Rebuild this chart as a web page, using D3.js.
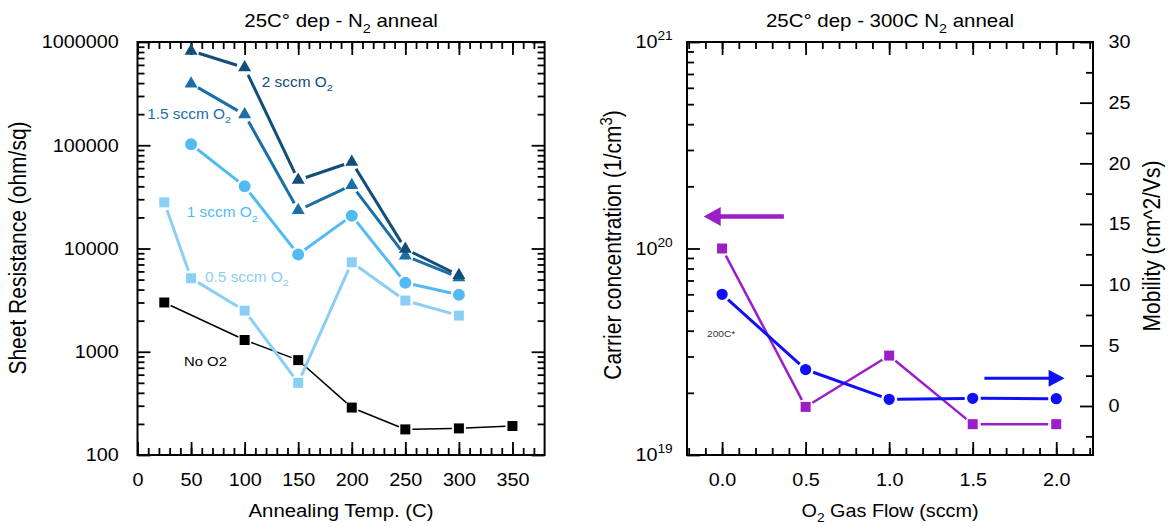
<!DOCTYPE html>
<html>
<head>
<meta charset="utf-8">
<script src="https://cdn.jsdelivr.net/npm/d3@7"></script>
<style>
body { margin: 0; background: #fff; }
text { font-family: Arial, "Liberation Sans", sans-serif; }
</style>
</head>
<body>
<svg id="chart" width="1168" height="527"></svg>
<script>
// left panel : sheet resistance vs annealing temperature
const tempNoO2 = [25, 100, 150, 200, 250, 300, 350];
const rsNoO2 = [3000, 1300, 830, 288, 177, 181, 191];
const temp05 = [25, 50, 100, 150, 200, 250, 300];
const rs05 = [28000, 5150, 2500, 500, 7350, 3130, 2240];
const temp = [50, 100, 150, 200, 250, 300];
const rs1 = [102000, 40000, 8750, 20800, 4650, 3570];
const rs15 = [395000, 198000, 23500, 41000, 8500, 5250];
const rs2 = [820000, 565000, 46000, 69000, 9900, 5500];
const tempTicks = [0, 50, 100, 150, 200, 250, 300, 350];
const rsTicks = [100, 1000, 10000, 100000, 1000000];

// right panel : carrier concentration + mobility vs O2 flow
const o2Flow = [0, 0.5, 1, 1.5, 2];
const carrier = [1.0e20, 1.71e19, 3.03e19, 1.41e19, 1.41e19];
const mobility = [9.2, 3.0, 0.55, 0.63, 0.6];
const flowTicks = [0, 0.5, 1, 1.5, 2];
const carrierTicks = [1e19, 1e20, 1e21];
const mobTicks = [0, 5, 10, 15, 20, 25, 30];

const SX = 1.1; // the picture is a bit wider than tall, stretch text to match
const svg = d3.select("#chart");

const L = {left: 137.5, right: 544.6, top: 42, bottom: 455};
const R = {left: 687, right: 1093, top: 42, bottom: 455};

const x = d3.scaleLinear([0, 380], [L.left, L.right]);
const y = d3.scaleLog([100, 1e6], [L.bottom, L.top]);
const xF = d3.scaleLinear([-0.21, 2.22], [R.left, R.right]);
const yC = d3.scaleLog([1e19, 1e21], [R.bottom, R.top]);
const yM = d3.scaleLinear([-4.04, 30], [R.bottom, R.top]);

function addText(g, px, py, parts, o) {
  const size = o.size;
  const t = g.append("text")
    .attr("font-size", size)
    .attr("text-anchor", o.anchor || "start")
    .attr("fill", o.fill || "#000")
    .attr("transform", `translate(${px},${py})` +
      (o.rotate ? ` rotate(-90) scale(1,${SX})` : ` scale(${SX},1)`));
  let off = 0;
  for (const [s, k] of parts) {
    const want = k == "sub" ? size * 0.3 : k == "sup" ? -size * 0.4 : 0;
    t.append("tspan").attr("dy", want - off).attr("font-size", k ? size * 0.7 : size).text(s);
    off = want;
  }
  return t;
}

function styleAxis(g) {
  g.attr("font-size", 18);
  g.select(".domain").remove();
  g.selectAll(".tick line").attr("stroke", "#000").attr("stroke-width", 1.8);
  g.selectAll(".tick text").attr("fill", "#000").attr("transform", `scale(${SX},1)`);
}

function axis(gen, tx, ty) {
  svg.append("g").attr("transform", `translate(${tx},${ty})`).call(gen).call(styleAxis);
}

function logMinor(decades) {
  return decades.slice(0, -1).flatMap(d => d3.range(2, 10).map(k => k * d));
}

// line made of segments that stop short of the markers
function gappedLine(xs, ys, sx, sy, color, width, gap) {
  const g = svg.append("g").attr("stroke", color).attr("stroke-width", width);
  for (let i = 0; i < xs.length - 1; i++) {
    const x0 = sx(xs[i]), y0 = sy(ys[i]), x1 = sx(xs[i + 1]), y1 = sy(ys[i + 1]);
    const len = Math.hypot(x1 - x0, y1 - y0);
    if (len < 2 * gap) continue;
    const ux = (x1 - x0) / len, uy = (y1 - y0) / len;
    g.append("line")
      .attr("x1", x0 + ux * gap).attr("y1", y0 + uy * gap)
      .attr("x2", x1 - ux * gap).attr("y2", y1 - uy * gap);
  }
}

function markers(xs, ys, sx, sy, type, size, color) {
  svg.append("g").selectAll("path").data(xs).join("path")
    .attr("transform", (d, i) => `translate(${sx(d)},${sy(ys[i])})`)
    .attr("d", d3.symbol(type, size))
    .attr("fill", color);
}

function arrow(x0, x1, yv, sx, sy, color, w, headLen, headW) {
  const px0 = sx(x0), px1 = sx(x1), py = sy(yv);
  const dir = Math.sign(px1 - px0);
  svg.append("line").attr("x1", px0).attr("y1", py).attr("x2", px1 - dir * headLen * 0.8).attr("y2", py)
    .attr("stroke", color).attr("stroke-width", w);
  svg.append("path")
    .attr("d", `M${px1},${py}L${px1 - dir * headLen},${py - headW}L${px1 - dir * headLen},${py + headW}Z`)
    .attr("fill", color);
}

// ---------- left panel ----------
axis(d3.axisBottom(x).tickValues(tempTicks).tickSize(-13).tickPadding(18), 0, L.bottom);
axis(d3.axisBottom(x).tickValues(d3.range(10, 380, 10)).tickSize(-7).tickFormat(""), 0, L.bottom);
axis(d3.axisTop(x).tickValues(tempTicks).tickSize(-13).tickFormat(""), 0, L.top);
axis(d3.axisTop(x).tickValues(d3.range(10, 380, 10)).tickSize(-7).tickFormat(""), 0, L.top);
axis(d3.axisLeft(y).tickValues(rsTicks).tickSize(-13).tickPadding(17).tickFormat(d3.format("d")), L.left, 0);
axis(d3.axisLeft(y).tickValues(logMinor(rsTicks)).tickSize(-7).tickFormat(""), L.left, 0);
axis(d3.axisRight(y).tickValues(rsTicks).tickSize(-13).tickFormat(""), L.right, 0);
axis(d3.axisRight(y).tickValues(logMinor(rsTicks)).tickSize(-7).tickFormat(""), L.right, 0);
svg.append("rect").attr("x", L.left).attr("y", L.top)
  .attr("width", L.right - L.left).attr("height", L.bottom - L.top)
  .attr("fill", "none").attr("stroke", "#000").attr("stroke-width", 2);

const c2 = "#124e78", c15 = "#1b6fa8", c1 = "#52bbf3", c05 = "#8ccff6";

gappedLine(tempNoO2, rsNoO2, x, y, "#000", 1.5, 7);
gappedLine(temp05, rs05, x, y, c05, 3, 8);
gappedLine(temp, rs1, x, y, c1, 3, 8);
gappedLine(temp, rs15, x, y, c15, 3, 8);
gappedLine(temp, rs2, x, y, c2, 3, 8);
markers(tempNoO2, rsNoO2, x, y, d3.symbolSquare, 100, "#000");
markers(temp05, rs05, x, y, d3.symbolSquare, 100, c05);
markers(temp, rs1, x, y, d3.symbolCircle, 113, c1);
markers(temp, rs15, x, y, d3.symbolTriangle, 73, c15);
markers(temp, rs2, x, y, d3.symbolTriangle, 73, c2);

addText(svg, x(116), y(3.66e5), [["2 sccm O"], ["2", "sub"]], {size: 14, fill: c2});
addText(svg, x(9), y(1.79e5), [["1.5 sccm O"], ["2", "sub"]], {size: 14, fill: c15});
addText(svg, x(46), y(2.0e4), [["1 sccm O"], ["2", "sub"]], {size: 14, fill: c1});
addText(svg, x(63), y(4786), [["0.5 sccm O"], ["2", "sub"]], {size: 14, fill: c05});
addText(svg, x(43.4), y(731), [["No O2"]], {size: 13.5});

addText(svg, (L.left + L.right) / 2, 27, [["25C\u00b0 dep - N"], ["2", "sub"], [" anneal"]], {size: 18.6, anchor: "middle"});
addText(svg, (L.left + L.right) / 2, 517, [["Annealing Temp. (C)"]], {size: 18.5, anchor: "middle"});
addText(svg, 26, 248, [["Sheet Resistance (ohm/sq)"]], {size: 21, anchor: "middle", rotate: true});

// ---------- right panel ----------
axis(d3.axisBottom(xF).tickValues(flowTicks).tickSize(-13).tickPadding(18).tickFormat(d3.format(".1f")), 0, R.bottom);
axis(d3.axisBottom(xF).tickValues(d3.range(-2, 23).map(d => d / 10)).tickSize(-7).tickFormat(""), 0, R.bottom);
axis(d3.axisTop(xF).tickValues(flowTicks).tickSize(-13).tickFormat(""), 0, R.top);
axis(d3.axisTop(xF).tickValues(d3.range(-2, 23).map(d => d / 10)).tickSize(-7).tickFormat(""), 0, R.top);
axis(d3.axisLeft(yC).tickValues(logMinor(carrierTicks)).tickSize(-7).tickFormat(""), R.left, 0);

const gC = svg.append("g").attr("transform", `translate(${R.left},0)`)
  .call(d3.axisLeft(yC).tickValues(carrierTicks).tickSize(-13).tickPadding(13)).call(styleAxis);
gC.selectAll(".tick text").each(function(d) {
  const t = d3.select(this).text("10");
  t.append("tspan").attr("dy", -8).attr("font-size", 12.5).text(Math.round(Math.log10(d)));
});

axis(d3.axisRight(yM).tickValues(mobTicks).tickSize(-13).tickPadding(14), R.right, 0);
axis(d3.axisRight(yM).tickValues(d3.range(-2.5, 30, 5)).tickSize(-7).tickFormat(""), R.right, 0);
svg.append("rect").attr("x", R.left).attr("y", R.top)
  .attr("width", R.right - R.left).attr("height", R.bottom - R.top)
  .attr("fill", "none").attr("stroke", "#000").attr("stroke-width", 2);

const cP = "#9b1ec8", cB = "#1010f5";
gappedLine(o2Flow, carrier, xF, yC, cP, 2.5, 8);
gappedLine(o2Flow, mobility, xF, yM, cB, 3, 8);
markers(o2Flow, carrier, xF, yC, d3.symbolSquare, 100, cP);
markers(o2Flow, mobility, xF, yM, d3.symbolCircle, 100, cB);

arrow(0.37, -0.11, 1.43e20, xF, yC, cP, 4.5, 17, 9.5);
arrow(1.57, 2.05, 2.28, xF, yM, cB, 3, 16, 8.5);

addText(svg, xF(-0.09), yC(3.73e19), [["200C*"]], {size: 9.2, fill: "#333"});

addText(svg, (R.left + R.right) / 2, 27, [["25C\u00b0 dep - 300C N"], ["2", "sub"], [" anneal"]], {size: 18.6, anchor: "middle"});
addText(svg, (R.left + R.right) / 2, 517, [["O"], ["2", "sub"], [" Gas Flow (sccm)"]], {size: 18, anchor: "middle"});
addText(svg, 621, 245, [["Carrier concentration (1/cm"], ["3", "sup"], [")"]], {size: 21, anchor: "middle", rotate: true});
addText(svg, 1160, 246, [["Mobility (cm^2/Vs)"]], {size: 21, anchor: "middle", rotate: true});
</script>
</body>
</html>
